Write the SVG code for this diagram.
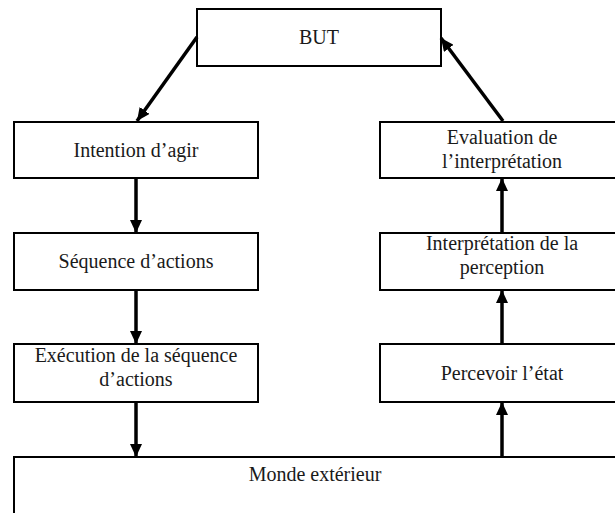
<svg xmlns="http://www.w3.org/2000/svg" width="615" height="513" viewBox="0 0 615 513">
<style>
.box{fill:#fff;stroke:#000;stroke-width:2}
.t{font-family:"Liberation Serif","Times New Roman",serif;font-size:20px;fill:#1a1a1a;text-anchor:middle}
.c{stroke:#000;stroke-width:3.5;fill:none}
</style>
<defs>
<marker id="ah" markerUnits="userSpaceOnUse" markerWidth="14" markerHeight="12" refX="13" refY="6" orient="auto">
<path d="M0,0 L13,6 L0,12 Z" fill="#000"/>
</marker>
</defs>
<rect width="615" height="513" fill="#fff"/>
<g id="n-but"><rect class="box" x="197" y="9" width="244" height="57"/><text class="t" x="319" y="44">BUT</text></g>
<g id="n-intention"><rect class="box" x="14" y="122" width="244" height="56"/><text class="t" x="136" y="157">Intention d’agir</text></g>
<g id="n-evaluation"><rect class="box" x="380" y="122" width="244" height="56"/><text class="t" x="502" y="144">Evaluation de</text><text class="t" x="502" y="168">l’interprétation</text></g>
<g id="n-sequence"><rect class="box" x="14" y="233" width="244" height="57"/><text class="t" x="136" y="268">Séquence d’actions</text></g>
<g id="n-interpretation"><rect class="box" x="380" y="233" width="244" height="57"/><text class="t" x="502" y="250">Interprétation de la</text><text class="t" x="502" y="274">perception</text></g>
<g id="n-execution"><rect class="box" x="14" y="344" width="244" height="58"/><text class="t" x="136" y="362">Exécution de la séquence</text><text class="t" x="136" y="386">d’actions</text></g>
<g id="n-percevoir"><rect class="box" x="380" y="344" width="244" height="58"/><text class="t" x="502" y="380">Percevoir l’état</text></g>
<g id="n-monde"><rect class="box" x="14" y="457" width="602" height="80"/><text class="t" x="315" y="481">Monde extérieur</text></g>
<g id="connectors">
<line class="c" x1="197" y1="37" x2="137" y2="121" marker-end="url(#ah)"/>
<line class="c" x1="136" y1="178" x2="136" y2="233" marker-end="url(#ah)"/>
<line class="c" x1="136" y1="290" x2="136" y2="344" marker-end="url(#ah)"/>
<line class="c" x1="136" y1="402" x2="136" y2="457" marker-end="url(#ah)"/>
<line class="c" x1="502" y1="457" x2="502" y2="402" marker-end="url(#ah)"/>
<line class="c" x1="502" y1="344" x2="502" y2="290" marker-end="url(#ah)"/>
<line class="c" x1="502" y1="233" x2="502" y2="178" marker-end="url(#ah)"/>
<line class="c" x1="503" y1="121" x2="441" y2="38" marker-end="url(#ah)"/>
</g>
</svg>
